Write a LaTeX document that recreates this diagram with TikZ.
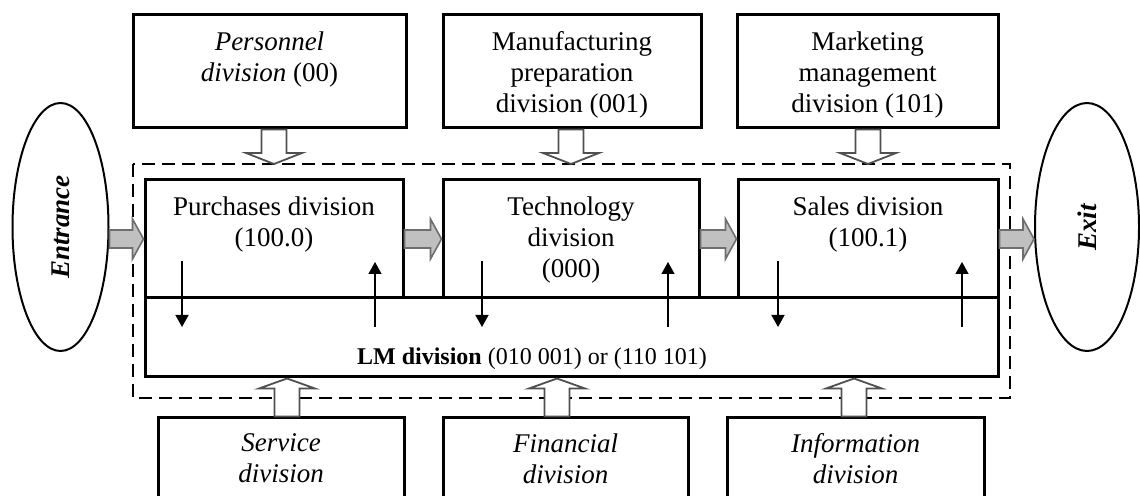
\documentclass[tikz,border=0pt]{standalone}
\usepackage{fontspec}
\setmainfont{Liberation Serif}
\usetikzlibrary{arrows.meta, calc, shapes.geometric}
\definecolor{blockgray}{HTML}{C0C0C0}
\definecolor{edgegray}{HTML}{6E6E6E}
\definecolor{hollowedge}{HTML}{505050}
\tikzset{
    divbox/.style={draw, line width=1.5pt, inner sep=0pt},
    divtext/.style={anchor=north, inner sep=0pt, align=center},
    endpoint/.style={draw, ellipse, line width=1pt, inner sep=0pt, minimum height=124pt},
    dashframe/.style={dash pattern=on 6.5pt off 3.5pt, line width=0.75pt},
    hollowarrow/.style={draw=hollowedge, fill=white, line width=0.9pt},
    grayarrow/.style={draw=edgegray, fill=blockgray, line width=0.8pt},
    smallarrow/.style={-{Triangle[length=6pt, width=6.5pt]}, line width=0.7pt}
}
% block arrow: style, shaft half width, head half width, head length, from, to
\newcommand{\BlockArrow}[6]{
    \path (#5) coordinate (ba-s) (#6) coordinate (ba-t);
    \draw[#1] ($(ba-s)!#2!90:(ba-t)$)
        -- ($(ba-t)!#4!(ba-s)!#2!-90:(ba-s)$)
        -- ($(ba-t)!#4!(ba-s)!#3!-90:(ba-s)$)
        -- (ba-t)
        -- ($(ba-t)!#4!(ba-s)!#3!90:(ba-s)$)
        -- ($(ba-t)!#4!(ba-s)!#2!90:(ba-s)$)
        -- ($(ba-s)!#2!-90:(ba-t)$) -- cycle;
}

\begin{document}
\begin{tikzpicture}[x=0.5pt, y=-0.5pt, font=\fontsize{13.5}{15.5}\selectfont]
    \useasboundingbox (0,0) rectangle (1140,496);
    \clip (0,0) rectangle (1140,496);

    % dashed frame round the working divisions
    \coordinate (fr-nw) at (133,164);
    \coordinate (fr-se) at (1010,398);
    \draw[dashframe] (fr-nw) rectangle (fr-se);

    % top row
    \node[divbox, minimum width=136.5pt, minimum height=56.5pt] (pers) at (269.5,71.5) {};
    \node[divbox, minimum width=129pt, minimum height=56.5pt] (manu) at (572,71.5) {};
    \node[divbox, minimum width=130.5pt, minimum height=56.5pt] (mark) at (867.5,71.5) {};
    \node[divtext] at ([yshift=-9pt]pers.north) {\textit{Personnel}\\\textit{division} (00)};
    \node[divtext] at ([yshift=-9pt]manu.north) {Manufacturing\\preparation\\division (001)};
    \node[divtext] at ([yshift=-9pt]mark.north) {Marketing\\management\\division (101)};

    % middle row
    \node[divbox, minimum width=129pt, minimum height=59pt] (purch) at (274,239) {};
    \node[divbox, minimum width=128pt, minimum height=59pt] (tech) at (571,239) {};
    \node[divbox, minimum width=130pt, minimum height=59pt] (sales) at (868,239) {};
    \node[divtext] at ([yshift=-9pt]purch.north) {Purchases division\\(100.0)};
    \node[divtext] at ([yshift=-9pt]tech.north) {Technology\\division\\(000)};
    \node[divtext] at ([yshift=-9pt]sales.north) {Sales division\\(100.1)};

    \node[divbox, minimum width=426.5pt, minimum height=39.5pt] (lm) at (571.5,337.5) {};
    \node[anchor=base, inner sep=0pt, font=\fontsize{12}{14}\selectfont] (lmtext) at (532,365)
        {\textbf{LM division} (010 001) or (110 101)};

    % bottom row
    \node[divbox, minimum width=123pt, minimum height=56.5pt] (serv) at (281,474.5) {};
    \node[divbox, minimum width=122.5pt, minimum height=56.5pt] (fin) at (565.5,474.5) {};
    \node[divbox, minimum width=128.5pt, minimum height=56.5pt] (info) at (855.5,474.5) {};
    \node[divtext] at ([yshift=-8.5pt]serv.north) {\textit{Service}\\\textit{division}};
    \node[divtext] at ([yshift=-8.5pt]fin.north) {\textit{Financial}\\\textit{division}};
    \node[divtext] at ([yshift=-8.5pt]info.north) {\textit{Information}\\\textit{division}};

    % entrance and exit
    \node[endpoint, minimum width=48pt] (entr) at (60.5,227) {\rotatebox{90}{\textbf{\textit{Entrance}}}};
    \node[endpoint, minimum width=52pt] (exit) at (1087,227) {\rotatebox{90}{\textbf{\textit{Exit}}}};

    % flow through the divisions
    \BlockArrow{grayarrow}{4.5pt}{10pt}{5.5pt}{entr.east |- purch.west}{purch.west}
    \BlockArrow{grayarrow}{4.5pt}{10pt}{5.5pt}{purch.east}{tech.west}
    \BlockArrow{grayarrow}{4.5pt}{10pt}{5.5pt}{tech.east}{sales.west}
    \BlockArrow{grayarrow}{4.5pt}{10pt}{5.5pt}{sales.east}{exit.west |- sales.east}

    % inputs from above
    \BlockArrow{hollowarrow}{6.25pt}{14pt}{5.5pt}{pers.south -| purch.north}{fr-nw -| purch.north}
    \BlockArrow{hollowarrow}{6.25pt}{14pt}{5.5pt}{manu.south -| tech.north}{fr-nw -| tech.north}
    \BlockArrow{hollowarrow}{6.25pt}{14pt}{5.5pt}{mark.south -| sales.north}{fr-nw -| sales.north}

    % inputs from below
    \path ([xshift=3pt]serv.north) coordinate (serv-up)
          ([xshift=-4.25pt]fin.north) coordinate (fin-up)
          ([xshift=-0.75pt]info.north) coordinate (info-up);
    \BlockArrow{hollowarrow}{6.25pt}{14pt}{5pt}{serv-up}{serv-up |- lm.south}
    \BlockArrow{hollowarrow}{6.25pt}{14pt}{5pt}{fin-up}{fin-up |- lm.south}
    \BlockArrow{hollowarrow}{6.25pt}{14pt}{5pt}{info-up}{info-up |- lm.south}

    % exchange with the LM division
    \foreach \xd/\xu in {182/375, 482/668, 778/962} {
        \draw[smallarrow] (\xd,261) -- (\xd,327);
        \draw[smallarrow] (\xu,327) -- (\xu,262);
    }
\end{tikzpicture}
\end{document}
